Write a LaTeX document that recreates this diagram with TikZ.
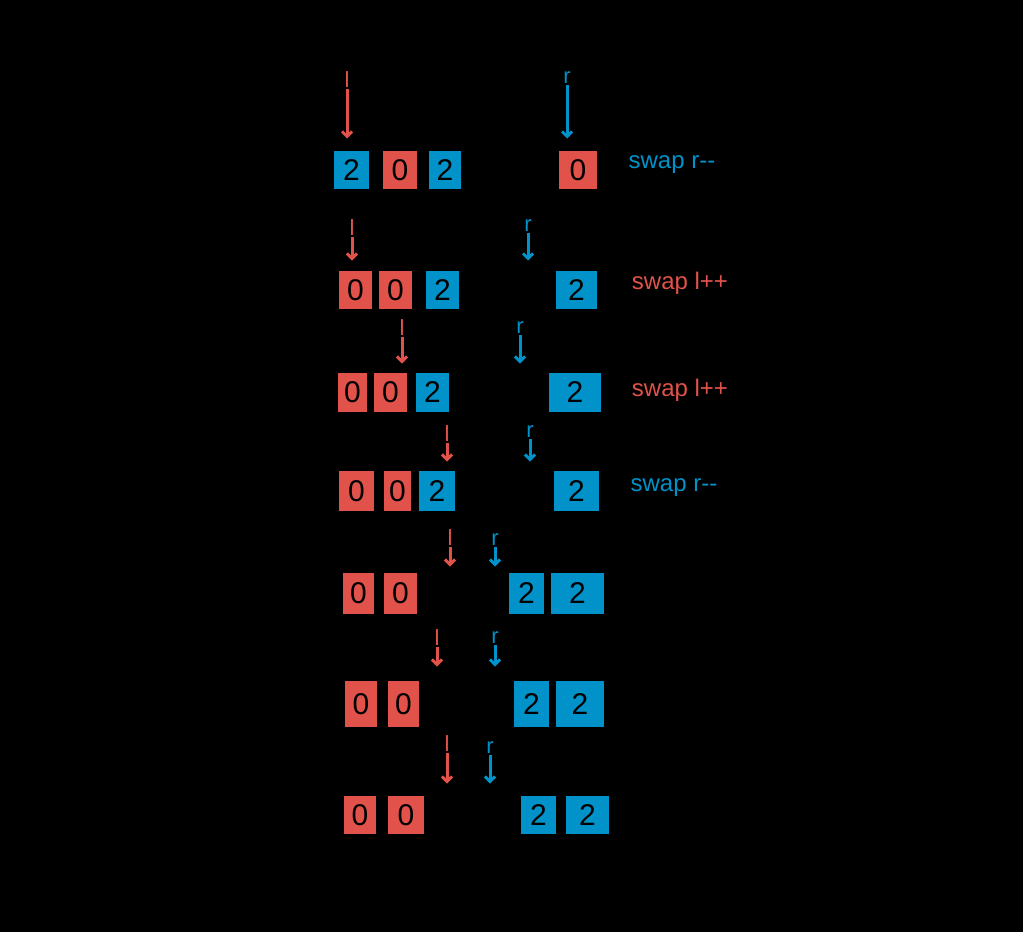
\documentclass[tikz,border=0pt]{standalone}
\usepackage{fontspec}
\setmainfont{Liberation Sans}
\usetikzlibrary{arrows.meta}
\definecolor{redc}{RGB}{224,82,74}
\definecolor{bluec}{RGB}{0,146,200}
\definecolor{ink}{RGB}{0,0,0}
\tikzset{
  cellbase/.style={draw=ink, line width=1.5pt, inner sep=0pt, font=\fontsize{30}{30}\selectfont, text=ink},
  rcell/.style={cellbase, fill=redc},
  bcell/.style={cellbase, fill=bluec},
  wcell/.style={cellbase},
  rowbox/.style={draw=ink, line width=3pt, rounded corners=5pt, inner sep=0pt},
  lab/.style={text=ink, font=\fontsize{22}{22}\selectfont, inner sep=1pt},
  rlab/.style={text=redc, font=\fontsize{24}{24}\selectfont, inner sep=1pt},
  blab/.style={text=bluec, font=\fontsize{24}{24}\selectfont, inner sep=1pt},
  ptrl/.style={text=redc, font=\fontsize{22}{22}\selectfont, inner sep=1pt},
  ptrr/.style={text=bluec, font=\fontsize{22}{22}\selectfont, inner sep=1pt},
  ptrc/.style={text=ink, font=\fontsize{22}{22}\selectfont, inner sep=1pt},
  arrl/.style={draw=redc, line width=3pt, -{Straight Barb[length=5pt]}},
  arrr/.style={draw=bluec, line width=3pt, -{Straight Barb[length=5pt]}},
  arrc/.style={draw=ink, line width=2pt, -{Straight Barb[length=5pt]}},
}
\begin{document}
\begin{tikzpicture}[x=1pt,y=-1pt]
\useasboundingbox[fill=black] (0,0) rectangle (1023,932);

% ---------- Row 1 ----------
\node[rowbox, minimum width=285, minimum height=62] (row1) at (464.5,171) {};
\node[bcell, minimum width=37, minimum height=40] (r1a) at (351.5,170) {2};
\node[rcell, minimum width=36, minimum height=40] (r1b) at (400,170) {0};
\node[bcell, minimum width=34, minimum height=40] (r1c) at (445,170) {2};
\node[wcell, minimum width=35, minimum height=40] (r1d) at (487,170) {1};
\node[wcell, minimum width=35, minimum height=40] (r1e) at (527,170) {1};
\node[rcell, minimum width=40, minimum height=40] (r1f) at (578,170) {0};
\node[lab] (L1) at (238,172) {A[i]=2};
\node[blab] (T1) at (672,165) {swap r-{}-};
\node[ptrc] (c1) at (298,85) {c};
\node[ptrl] (l1) at (347,80) {l};
\node[ptrr] (p1) at (567,78) {r};
\draw[arrc] (c1) -- (row1.north west);
\draw[arrl] (l1) -- (l1 |- row1.north);
\draw[arrr] (p1) -- (p1 |- row1.north);
\path (r1a.south) ++(0,16) coordinate (sw1);
\path (r1f.south) ++(-20,16) coordinate (sw2);
\draw[ink, line width=2pt, {Straight Barb[length=5pt]}-{Straight Barb[length=5pt]}] (sw1) to[bend right=8] (sw2);

% ---------- Row 2 ----------
\node[rowbox, minimum width=273, minimum height=56] (row2) at (471.5,290) {};
\node[rcell, minimum width=35, minimum height=40] (r2a) at (355.5,290) {0};
\node[rcell, minimum width=35, minimum height=40] (r2b) at (395.5,290) {0};
\node[bcell, minimum width=35, minimum height=40] (r2c) at (442.5,290) {2};
\node[wcell, minimum width=40, minimum height=40] (r2d) at (484,290) {1};
\node[wcell, minimum width=40, minimum height=40] (r2e) at (526,290) {1};
\node[bcell, minimum width=43, minimum height=40] (r2f) at (576.5,290) {2};
\node[lab] (L2) at (248,290) {A[i]=0};
\node[rlab] (T2) at (680,283) {swap l++};
\node[lab] (U2) at (785,283) {c++};
\node[ptrc] (c2) at (320,222) {c};
\node[ptrl] (l2) at (352,228) {l};
\node[ptrr] (p2) at (528,226) {r};
\draw[arrc] (c2) -- (c2 |- row2.north);
\draw[arrl] (l2) -- (l2 |- row2.north);
\draw[arrr] (p2) -- (p2 |- row2.north);
\coordinate (vline1) at (329,210);
\coordinate (vline2) at (329,415);
\draw[ink, line width=2pt] (vline1) -- (vline2);

% ---------- Row 3 ----------
\node[rowbox, minimum width=275, minimum height=55] (row3) at (472.5,392.5) {};
\node[rcell, minimum width=31, minimum height=41] (r3a) at (352.5,392.5) {0};
\node[rcell, minimum width=35, minimum height=41] (r3b) at (390.5,392.5) {0};
\node[bcell, minimum width=35, minimum height=41] (r3c) at (432.5,392.5) {2};
\node[wcell, minimum width=44, minimum height=41] (r3d) at (475,392.5) {1};
\node[wcell, minimum width=44, minimum height=41] (r3e) at (523,392.5) {1};
\node[bcell, minimum width=54, minimum height=41] (r3f) at (575,392.5) {2};
\node[lab] (L3) at (245,392) {A[i]=0};
\node[rlab] (T3) at (680,390) {swap l++};
\node[lab] (U3) at (777,390) {c++};
\node[ptrc] (c3) at (362,326) {c};
\node[ptrl] (l3) at (402,328) {l};
\node[ptrr] (p3) at (520,328) {r};
\draw[arrc] (c3) -- (c3 |- row3.north);
\draw[arrl] (l3) -- (l3 |- row3.north);
\draw[arrr] (p3) -- (p3 |- row3.north);

% ---------- Row 4 ----------
\node[rowbox, minimum width=278, minimum height=57] (row4) at (471,491.5) {};
\node[rcell, minimum width=37, minimum height=42] (r4a) at (356.5,491) {0};
\node[rcell, minimum width=29, minimum height=42] (r4b) at (397.5,491) {0};
\node[bcell, minimum width=38, minimum height=42] (r4c) at (437,491) {2};
\node[wcell, minimum width=44, minimum height=42] (r4d) at (480,491) {1};
\node[wcell, minimum width=44, minimum height=42] (r4e) at (526,491) {1};
\node[bcell, minimum width=47, minimum height=42] (r4f) at (576.5,491) {2};
\node[lab] (L4) at (245,490) {A[i]=2};
\node[blab] (T4) at (674,488) {swap r-{}-};
\node[ptrc] (c4) at (405,432) {c};
\node[ptrl] (l4) at (447,434) {l};
\node[ptrr] (p4) at (530,432) {r};
\draw[arrc] (c4) -- (c4 |- row4.north);
\draw[arrl] (l4) -- (l4 |- row4.north);
\draw[arrr] (p4) -- (p4 |- row4.north);

% ---------- Row 5 ----------
\node[rowbox, minimum width=275, minimum height=54] (row5) at (472.5,595) {};
\node[rcell, minimum width=33, minimum height=43] (r5a) at (358.5,593.5) {0};
\node[rcell, minimum width=35, minimum height=43] (r5b) at (400.5,593.5) {0};
\node[wcell, minimum width=40, minimum height=43] (r5c) at (445,593.5) {1};
\node[wcell, minimum width=40, minimum height=43] (r5d) at (486,593.5) {1};
\node[bcell, minimum width=37, minimum height=43] (r5e) at (526.5,593.5) {2};
\node[bcell, minimum width=55, minimum height=43] (r5f) at (577.5,593.5) {2};
\node[lab] (L5) at (250,600) {A[i]=1};
\node[lab] (U5) at (672,592) {c++};
\node[ptrc] (c5) at (425,538) {c};
\node[ptrl] (l5) at (450,538) {l};
\node[ptrr] (p5) at (495,540) {r};
\draw[arrc] (c5) -- (c5 |- row5.north);
\draw[arrl] (l5) -- (l5 |- row5.north);
\draw[arrr] (p5) -- (p5 |- row5.north);

% ---------- Row 6 ----------
\node[rowbox, minimum width=274, minimum height=70] (row6) at (475,703) {};
\node[rcell, minimum width=34, minimum height=48] (r6a) at (361,704) {0};
\node[rcell, minimum width=33, minimum height=48] (r6b) at (403.5,704) {0};
\node[wcell, minimum width=42, minimum height=48] (r6c) at (444,704) {1};
\node[wcell, minimum width=42, minimum height=48] (r6d) at (488,704) {1};
\node[bcell, minimum width=37, minimum height=48] (r6e) at (531.5,704) {2};
\node[bcell, minimum width=50, minimum height=48] (r6f) at (580,704) {2};
\node[lab] (L6) at (258,718) {A[i]=1};
\node[lab] (U6) at (670,698) {c++};
\node[ptrl] (l6) at (437,638) {l};
\node[ptrc] (c6) at (475,636) {c};
\node[ptrr] (p6) at (495,638) {r};
\draw[arrl] (l6) -- (l6 |- row6.north);
\draw[arrc] (c6) -- (c6 |- row6.north);
\draw[arrr] (p6) -- (p6 |- row6.north);

% ---------- Row 7 ----------
\node[rowbox, minimum width=287, minimum height=60] (row7) at (478.5,815) {};
\node[rcell, minimum width=34, minimum height=40] (r7a) at (360,815) {0};
\node[rcell, minimum width=38, minimum height=40] (r7b) at (406,815) {0};
\node[wcell, minimum width=38, minimum height=40] (r7c) at (451,815) {1};
\node[wcell, minimum width=40, minimum height=40] (r7d) at (495,815) {1};
\node[bcell, minimum width=37, minimum height=40] (r7e) at (538.5,815) {2};
\node[bcell, minimum width=45, minimum height=40] (r7f) at (587.5,815) {2};
\node[lab] (U7) at (757,818) {c > r STOP};
\node[ptrl] (l7) at (447,744) {l};
\node[ptrr] (p7) at (490,748) {r};
\node[ptrc] (c7) at (540,746) {c};
\draw[arrl] (l7) -- (l7 |- row7.north);
\draw[arrr] (p7) -- (p7 |- row7.north);
\draw[arrc] (c7) -- (c7 |- row7.north);
\end{tikzpicture}
\end{document}
